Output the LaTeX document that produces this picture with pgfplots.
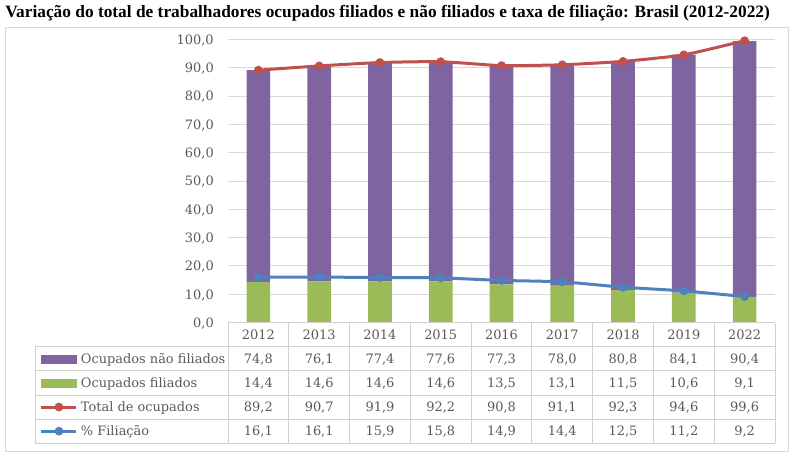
\documentclass[border=0pt]{standalone}
\usepackage{pgfplots}
\pgfplotsset{compat=1.18}
\usepackage{pgfplotstable}
\usepackage{fontspec}
\setmainfont{DejaVu Serif}
\newfontfamily\titlefont{Liberation Serif}
\definecolor{purp}{HTML}{8064A2}
\definecolor{grn}{HTML}{9BBB59}
\definecolor{redl}{HTML}{C0504D}
\definecolor{bluel}{HTML}{4F81BD}
\definecolor{gridc}{HTML}{D9D9D9}
\definecolor{txt}{HTML}{595959}
\definecolor{tabl}{HTML}{D0D0D0}
\newcommand\tabfont{\fontsize{9.7}{11}\selectfont}

\pgfplotstableread{
x nf f total pct
0 74.8 14.4 89.2 16.1
1 76.1 14.6 90.7 16.1
2 77.4 14.6 91.9 15.9
3 77.6 14.6 92.2 15.8
4 77.3 13.5 90.8 14.9
5 78.0 13.1 91.1 14.4
6 80.8 11.5 92.3 12.5
7 84.1 10.6 94.6 11.2
8 90.4 9.1 99.6 9.2
}\data

\pgfplotsset{base/.style={scale only axis, width=410.25pt, height=212.25pt,
  at={(171pt,100.05pt)}, anchor=south west,
  xmin=-0.5, xmax=8.5, ymin=0, ymax=100}}

\begin{document}
\begin{tikzpicture}[x=0.75pt,y=0.75pt]
\path[use as bounding box] (0,0) rectangle (800,456);
\draw[gridc, line width=0.75pt] (5,4) rectangle (788,428);
\node[anchor=west, inner sep=0pt] at (5,443) {\titlefont\bfseries\fontsize{13}{15}\selectfont Variação do total de trabalhadores ocupados filiados e não filiados e taxa de filiação: Brasil (2012-2022)};

\begin{axis}[base, ybar stacked, bar width=0.39,
  ytick={0,10,...,100}, ymajorgrids, grid style={gridc, line width=0.75pt},
  axis line style={draw=none}, major tick length=0pt,
  xtick={0,1,...,8}, xticklabels={2012,2013,2014,2015,2016,2017,2018,2019,2022},
  xticklabel style={anchor=center, yshift=-9.3pt, inner sep=0pt, text=txt, font=\tabfont},
  yticklabel style={anchor=east, inner sep=0pt, xshift=-10.5pt, text depth=0pt, text=txt, font=\tabfont},
  /pgf/number format/.cd, use comma, fixed, fixed zerofill, precision=1, assume math mode=true]
\addplot[fill=grn, draw=none] table[x=x,y=f]{\data};
\addplot[fill=purp, draw=none] table[x=x,y=nf]{\data};
\end{axis}

\begin{axis}[base, hide axis, clip=false, legend cell align=left,
  legend style={at={(-0.3437,-0.0852)}, anchor=north west, draw=none, fill=none,
    inner sep=0pt, outer sep=0pt, row sep=0pt, column sep=2.25pt,
    nodes={inner sep=0pt, text=txt, font=\tabfont, text height=12.5pt, text depth=5.6pt}}]
\addlegendimage{legend image code/.code={\fill[purp] (0pt,-3pt) rectangle (26.25pt,3pt);}}
\addlegendentry{Ocupados não filiados}
\addlegendimage{legend image code/.code={\fill[grn] (0pt,-3pt) rectangle (26.25pt,3pt);}}
\addlegendentry{Ocupados filiados}
\addlegendimage{legend image code/.code={\draw[redl, line width=2.25pt] (0pt,0pt) -- (26.25pt,0pt); \draw[redl, line width=2.25pt, mark=*, mark size=2.1pt, mark options={solid, fill=redl}] plot coordinates {(13.1pt,0pt)};}}
\addlegendentry{Total de ocupados}
\addlegendimage{legend image code/.code={\draw[bluel, line width=2.25pt] (0pt,0pt) -- (26.25pt,0pt); \draw[bluel, line width=2.25pt, mark=*, mark size=2.1pt, mark options={solid, fill=bluel}] plot coordinates {(13.1pt,0pt)};}}
\addlegendentry{\% Filiação}
\addplot[redl, line width=2.25pt, smooth, tension=0.3, mark=*, mark size=2.1pt, mark options={solid, fill=redl}, forget plot] table[x=x,y=total]{\data};
\addplot[bluel, line width=2.25pt, smooth, tension=0.3, mark=*, mark size=2.1pt, mark options={solid, fill=bluel}, forget plot] table[x=x,y=pct]{\data};
\end{axis}

\begin{scope}[tabl, line width=0.75pt]
\foreach \yy in {109.3, 85.0, 60.8, 36.7, 12.7} {\draw (35,\yy) -- (775,\yy);}
\draw (228,133.4) -- (775,133.4);
\draw (35,109.3) -- (35,12.7);
\foreach \k in {0,...,9} {\draw ({228+60.78*\k},133.4) -- ({228+60.78*\k},12.7);}
\end{scope}

\foreach \col/\py in {nf/358.85, f/383.0, total/407.2, pct/431.3} {
  \foreach \k in {0,...,8} {
    \pgfplotstablegetelem{\k}{\col}\of\data
    \node[anchor=base, inner sep=0pt, text=txt, font=\tabfont] at ({228+60.78*(\k+0.5)}, {456-\py-4.7}) {\pgfmathprintnumber[use comma, fixed, fixed zerofill, precision=1, assume math mode=true]{\pgfplotsretval}};
  }
}
\end{tikzpicture}
\end{document}
